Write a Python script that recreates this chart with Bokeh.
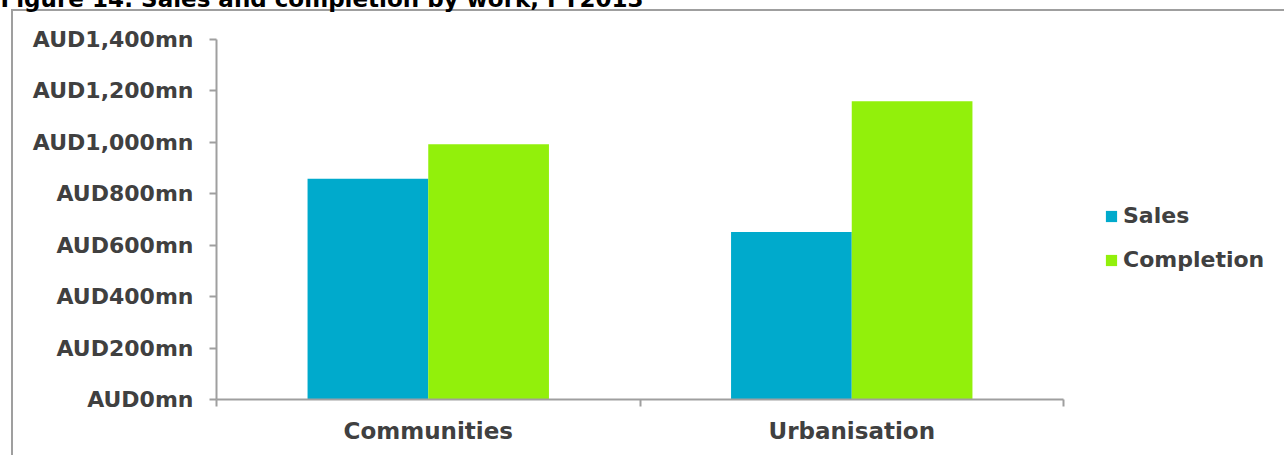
from bokeh.plotting import figure
from bokeh.models import (Range1d, FixedTicker, Legend, LegendItem, Title,
                          ColumnDataSource)
from bokeh.embed import file_html
from bokeh.resources import INLINE

# Data
title_text = "Figure 14: Sales and completion by work, FY2013"
categories = ["Communities", "Urbanisation"]
series_names = ["Sales", "Completion"]
sales = [858, 651]          # AUD mn
completion = [993, 1160]    # AUD mn
y_ticks = [0, 200, 400, 600, 800, 1000, 1200, 1400]
y_tick_labels = ["AUD0mn", "AUD200mn", "AUD400mn", "AUD600mn", "AUD800mn",
                 "AUD1,000mn", "AUD1,200mn", "AUD1,400mn"]

SALES_COLOR = "#00AACC"
COMPLETION_COLOR = "#92F00B"
TEXT_COLOR = "#404040"
AXIS_COLOR = "#9f9f9f"
FONT = "DejaVu Sans"

SHIFT = 49  # canvas is pulled up so the caption runs off the top edge

bar_w = 0.285
centers = [i + 0.5 for i in range(len(categories))]
bounds = [float(i) for i in range(len(categories) + 1)]

p = figure(frame_width=847, frame_height=360, output_backend="svg",
           toolbar_location=None,
           x_range=Range1d(0, len(categories)), y_range=Range1d(0, 1400),
           min_border_left=216, min_border_right=221,
           min_border_top=39 + SHIFT, min_border_bottom=56)
p.outline_line_color = None
p.grid.visible = False
p.background_fill_alpha = 0
p.border_fill_alpha = 0

# open frame line round the chart (left and top edges)
line = f"linear-gradient({AXIS_COLOR}, {AXIS_COLOR})"
p.styles = {
    "margin-top": f"-{SHIFT}px",
    "background-color": "white",
    "background-image": f"{line}, {line}",
    "background-size": "2px 100%, 100% 2px",
    "background-position": f"11px {9 + SHIFT}px, 11px {9 + SHIFT}px",
    "background-repeat": "no-repeat",
}

p.title = Title(text=title_text, align="left", offset=-216, standoff=55,
                text_font=FONT, text_font_style="bold",
                text_font_size="23px", text_color="black")

src = ColumnDataSource(dict(
    sales_x=[c - bar_w / 2 for c in centers],
    comp_x=[c + bar_w / 2 for c in centers],
    sales=sales, completion=completion, cat=categories))

r_sales = p.vbar(x="sales_x", top="sales", width=bar_w, source=src,
                 fill_color=SALES_COLOR, line_color=None)
r_comp = p.vbar(x="comp_x", top="completion", width=bar_w, source=src,
                fill_color=COMPLETION_COLOR, line_color=None)

# x axis: labels at category centres, ticks at category boundaries
xa = p.xaxis[0]
xa.ticker = FixedTicker(ticks=centers, minor_ticks=bounds)
xa.major_label_overrides = {c: name for c, name in zip(centers, categories)}
xa.major_tick_line_color = None
xa.major_tick_out = 0
xa.major_tick_in = 0
xa.minor_tick_line_color = AXIS_COLOR
xa.minor_tick_line_width = 2
xa.minor_tick_out = 7
xa.minor_tick_in = 0
xa.axis_line_color = AXIS_COLOR
xa.axis_line_width = 2
xa.major_label_standoff = 11
xa.major_label_text_font = FONT
xa.major_label_text_font_style = "bold"
xa.major_label_text_font_size = "23px"
xa.major_label_text_color = TEXT_COLOR

ya = p.yaxis[0]
ya.ticker = FixedTicker(ticks=y_ticks)
ya.major_label_overrides = {t: s for t, s in zip(y_ticks, y_tick_labels)}
ya.minor_tick_line_color = None
ya.major_tick_line_color = AXIS_COLOR
ya.major_tick_line_width = 2
ya.major_tick_out = 7
ya.major_tick_in = 0
ya.axis_line_color = AXIS_COLOR
ya.axis_line_width = 2
ya.major_label_standoff = 16
ya.major_label_text_font = FONT
ya.major_label_text_font_style = "bold"
ya.major_label_text_font_size = "22px"
ya.major_label_text_color = TEXT_COLOR

legend = Legend(items=[LegendItem(label=series_names[0], renderers=[r_sales]),
                       LegendItem(label=series_names[1], renderers=[r_comp])],
                location=(41, 127), orientation="vertical",
                glyph_width=14, glyph_height=14, label_standoff=5,
                spacing=19, padding=0, margin=0,
                border_line_color=None, background_fill_alpha=0,
                label_text_font=FONT, label_text_font_style="bold",
                label_text_font_size="22px", label_text_color=TEXT_COLOR)
p.add_layout(legend, "right")

open("out.html", "w").write(file_html(p, INLINE))
